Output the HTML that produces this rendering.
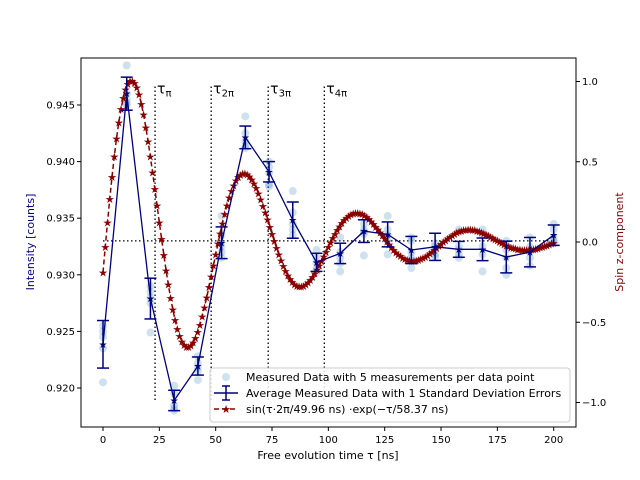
<!DOCTYPE html>
<html><head><meta charset="utf-8"><style>
body{margin:0;background:#fff;}
svg{display:block;font-family:"DejaVu Sans","Liberation Sans",sans-serif;}
</style></head><body>
<svg id="chart" width="640" height="480" viewBox="0 0 640 480" xmlns="http://www.w3.org/2000/svg">
<rect width="640" height="480" fill="#fff"/>
<g id="plot"></g>
<text x="328" y="459" font-size="11" text-anchor="middle">Free evolution time τ [ns]</text>
<text transform="translate(34,242) rotate(-90)" font-size="11" text-anchor="middle" fill="#000080">Intensity [counts]</text>
<text transform="translate(623,242) rotate(-90)" font-size="11" text-anchor="middle" fill="#8b0000">Spin z-component</text>
<g>
<rect x="210" y="368" width="360" height="54" rx="3" fill="#fff" fill-opacity="0.85" stroke="#ccc"/>
<circle cx="226" cy="377" r="4" fill="#1f77b4" fill-opacity="0.22"/>
<text x="246" y="381" font-size="11">Measured Data with 5 measurements per data point</text>
<g stroke="#000080" stroke-width="1.5"><line x1="214" y1="393" x2="238" y2="393"/><line x1="226" y1="386" x2="226" y2="400"/><line x1="222" y1="386" x2="230" y2="386"/><line x1="222" y1="400" x2="230" y2="400"/></g>
<text x="246" y="397" font-size="11">Average Measured Data with 1 Standard Deviation Errors</text>
<line x1="214" y1="409" x2="238" y2="409" stroke="#8b0000" stroke-width="1.5" stroke-dasharray="5,3"/>
<text x="226" y="413" font-size="11" text-anchor="middle" fill="#8b0000">★</text>
<text x="246" y="413" font-size="11">sin(τ·2π/49.96 ns) ·exp(−τ/58.37 ns)</text>
</g>
</svg>
<script>
const xTicks=[0,25,50,75,100,125,150,175,200];
const leftTicks=[0.920,0.925,0.930,0.935,0.940,0.945];
const rightTicks=[1.0,0.5,0.0,-0.5,-1.0];
const tauValues=[0,10.53,21.05,31.58,42.11,52.63,63.16,73.68,84.21,94.74,105.26,115.79,126.32,136.84,147.37,157.89,168.42,178.95,189.47,200];
const avgValues=[0.92386,0.9460,0.9279,0.9189,0.92194,0.93283,0.94214,0.9391,0.93483,0.9311,0.93189,0.93386,0.93357,0.93219,0.93247,0.93225,0.93225,0.93157,0.9320,0.9335];
const errValues=[0.0021,0.00146,0.0018,0.0009,0.0008,0.0014,0.001,0.0009,0.0016,0.0008,0.0009,0.001,0.0011,0.0012,0.0012,0.0007,0.001,0.0014,0.0013,0.0009];
const rawValues=[
[0.9255,0.9250,0.9245,0.9235,0.9205],[0.9485,0.9460,0.9455,0.9452,0.9450],[0.9290,0.9285,0.9280,0.9275,0.9249],
[0.9202,0.9195,0.9185,0.9182,0.9180],[0.9228,0.9222,0.9218,0.9215,0.9207],[0.9352,0.9335,0.9325,0.9320,0.9315],
[0.9440,0.9425,0.9418,0.9414,0.9412],[0.9400,0.9395,0.9390,0.9380,0.9378],[0.9374,0.9355,0.9345,0.9340,0.9335],
[0.9322,0.9315,0.9310,0.9305,0.9302],[0.9333,0.9320,0.9315,0.9310,0.9303],[0.9345,0.9340,0.9338,0.9336,0.9317],
[0.9352,0.9340,0.9335,0.9330,0.9318],[0.9333,0.9330,0.9320,0.9315,0.9306],[0.9328,0.9325,0.9322,0.9318,0.9316],
[0.9340,0.9325,0.9322,0.9318,0.9315],[0.9340,0.9335,0.9325,0.9318,0.9303],[0.9330,0.9322,0.9315,0.9306,0.9300],
[0.9333,0.9325,0.9320,0.9315,0.9308],[0.9345,0.9340,0.9333,0.9330,0.9328]];
const fitParams=[1.26,49.96,-0.151,58.37];
const tauMarkers=[23.1,48.0,73.3,98.2];
const tauLabels=['π','2π','3π','4π'];
const baseline=[0.933];

const NS='http://www.w3.org/2000/svg';
const g=document.getElementById('plot');
const L=81,R=576,T=58,B=427;
const xs=v=>103+v*2.2535;
const yl=v=>388-(v-0.92)/0.005*56.6;
const yr=v=>242-v*160.5;
function mk(tag,attrs,parent){const e=document.createElementNS(NS,tag);for(const k in attrs)e.setAttribute(k,attrs[k]);(parent||g).appendChild(e);return e;}

let e=mk('line',{x1:xs(0),x2:xs(200),y1:yl(baseline[0]),y2:yl(baseline[0]),stroke:'#000','stroke-width':1.3,'stroke-dasharray':'1.5,2.5'});


tauMarkers.forEach((t,i)=>{
  const l=mk('line',{x1:xs(t),x2:xs(t),y1:yr(1.0)+5,y2:yr(-1.0),stroke:'#000','stroke-width':1.3,'stroke-dasharray':'1.5,2.5'});
  
  
  const tx=mk('text',{x:xs(t)+2,y:yr(1.0)+12,'font-size':14});
  tx.innerHTML='τ<tspan font-size="10" dy="3">'+tauLabels[i]+'</tspan>';
  
  
});
rawValues.forEach((arr,i)=>arr.forEach(v=>{
  const c=mk('circle',{cx:xs(tauValues[i]),cy:yl(v),r:4,fill:'#1f77b4','fill-opacity':0.22});
  
  
}));
const fitTau=[];for(let t=0;t<=200;t+=1)fitTau.push(t);
const fitY=fitTau.map(t=>fitParams[0]*Math.sin(2*Math.PI*t/fitParams[1]+fitParams[2])*Math.exp(-t/fitParams[3]));
e=mk('polyline',{points:fitTau.map((t,i)=>xs(t)+','+yr(fitY[i])).join(' '),fill:'none',stroke:'#8b0000','stroke-width':1.5,'stroke-dasharray':'5,3'});


fitTau.forEach((t,i)=>{
  const s=mk('text',{x:xs(t),y:yr(fitY[i])+4,'font-size':11,'text-anchor':'middle',fill:'#8b0000'});
  s.textContent='★';
  
  
});
e=mk('polyline',{points:tauValues.map((t,i)=>xs(t)+','+yl(avgValues[i])).join(' '),fill:'none',stroke:'#000080','stroke-width':1.3});


tauValues.forEach((t,i)=>{
  const x=xs(t),y1=yl(avgValues[i]+errValues[i]),y2=yl(avgValues[i]-errValues[i]);
  const eg=mk('g',{stroke:'#000080','stroke-width':1.5});
  
  
  mk('line',{x1:x,x2:x,y1:y1,y2:y2},eg);
  mk('line',{x1:x-6,x2:x+6,y1:y1,y2:y1},eg);
  mk('line',{x1:x-6,x2:x+6,y1:y2,y2:y2},eg);
  const s=mk('text',{x:x,y:yl(avgValues[i])+3.5,'font-size':10,'text-anchor':'middle',fill:'#000080'});
  s.textContent='★';
  
  
});
e=mk('rect',{x:L,y:T,width:R-L,height:B-T,fill:'none',stroke:'#000','stroke-width':1});


xTicks.forEach(v=>{
  mk('line',{x1:xs(v),x2:xs(v),y1:B,y2:B+4,stroke:'#000'});
  const t=mk('text',{x:xs(v),y:B+16,'font-size':10,'text-anchor':'middle'});
  t.textContent=v;
  
  
});
leftTicks.forEach(v=>{
  mk('line',{x1:L-4,x2:L,y1:yl(v),y2:yl(v),stroke:'#000'});
  const t=mk('text',{x:L-6,y:yl(v)+3.5,'font-size':10,'text-anchor':'end'});
  t.textContent=v.toFixed(3);
  
  
});
rightTicks.forEach(v=>{
  mk('line',{x1:R,x2:R+4,y1:yr(v),y2:yr(v),stroke:'#000'});
  const t=mk('text',{x:R+6,y:yr(v)+3.5,'font-size':10});
  t.textContent=(v<0?'−':'')+Math.abs(v).toFixed(1);
  
  
});
</script>
</body></html>
